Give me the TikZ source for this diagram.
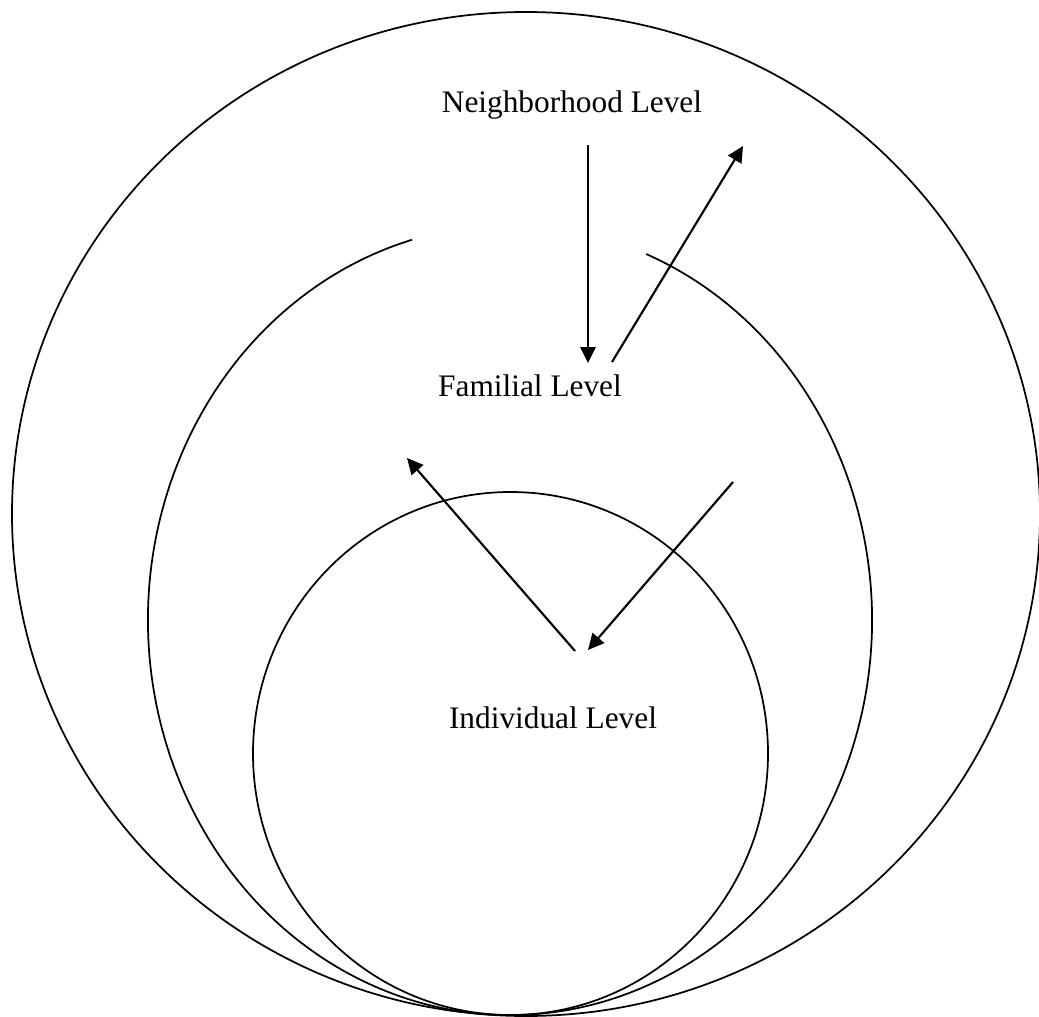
\documentclass[tikz,border=0pt]{standalone}
\usepackage{fontspec}
\setmainfont{Liberation Serif}
\usetikzlibrary{arrows.meta}
\begin{document}
\begin{tikzpicture}[x=0.75pt,y=-0.75pt,
  ring/.style={line width=1.3pt},
  conn/.style={line width=1.6pt,-{Triangle[length=12pt,width=11.5pt]}},
  lab/.style={anchor=base,inner sep=0pt,font=\fontsize{23.5}{28}\selectfont}]
\useasboundingbox (0,0) rectangle (1039,1017);
% outer ellipse
\draw[ring] (526,514) ellipse [x radius=514, y radius=502];
% middle ellipse with gap at top
\draw[ring] (510,620) ++(-67.9:362 and 395) arc[start angle=-67.9, end angle=254.3, x radius=362, y radius=395];
% inner ellipse
\draw[ring] (510.5,753.5) ellipse [x radius=257.5, y radius=261.5];
% labels
\node[lab] (nb) at (572,112) {Neighborhood Level};
\node[lab] (fam) at (530,396) {Familial Level};
\node[lab] (ind) at (553,728) {Individual Level};
% arrow end points
\coordinate (a1s) at (588,145);
\coordinate (a1e) at (588,363);
\coordinate (a2s) at (612,362);
\coordinate (a2e) at (743,146);
\coordinate (a3s) at (575,651);
\coordinate (a3e) at (407,458);
\coordinate (a4s) at (733,482);
\coordinate (a4e) at (588,650);
\draw[conn] (a1s) -- (a1e);
\draw[conn] (a2s) -- (a2e);
\draw[conn] (a3s) -- (a3e);
\draw[conn] (a4s) -- (a4e);
\end{tikzpicture}
\end{document}
